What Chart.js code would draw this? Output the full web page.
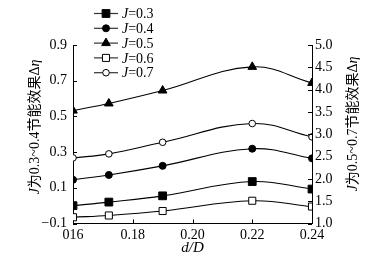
<!DOCTYPE html>
<html>
<head>
<meta charset="utf-8">
<script src="https://cdn.jsdelivr.net/npm/chart.js@4"></script>
<style>
html,body{margin:0;padding:0;background:#fff;}
#wrap{width:369px;height:261px;}
</style>
</head>
<body>
<div id="wrap"><canvas id="grafico"></canvas></div>
<script>
// d/D values of the points
const xVals = [0.16, 0.172, 0.19, 0.22, 0.24];
// left axis series (J = 0.3, 0.4)
const j03 = [0.0, 0.02, 0.055, 0.135, 0.093];
const j04 = [0.145, 0.172, 0.223, 0.319, 0.265];
// right axis series (J = 0.5, 0.6, 0.7)
const j05 = [3.53, 3.69, 3.98, 4.51, 4.15];
const j06 = [1.14, 1.18, 1.28, 1.51, 1.38];
const j07 = [2.47, 2.56, 2.82, 3.24, 2.94];

const nomesJ = ['0.3', '0.4', '0.5', '0.6', '0.7'];
const xTickLabels = ['016', '0.18', '0.20', '0.22', '0.24'];
// [text, italic]
const tituloEsq = [['J',true], ['为0.3~0.4节能效果Δ',false], ['η',true]];
const tituloDir = [['J',true], ['为0.5~0.7节能效果Δ',false], ['η',true]];
const tituloX = 'd/D';

const fonte = '"Liberation Serif", "Noto Sans CJK SC", serif';

function pts(arr){
    return arr.map((v,i)=>({x:xVals[i], y:v}));
}

function serie(nome, arr, eixo, estilo, cheio, raio){
    return {
        label:'J='+nome,
        data:pts(arr),
        yAxisID:eixo,
        borderColor:'#000',
        borderWidth:1.1,
        tension:0.4,
        pointStyle:estilo,
        pointRadius:raio,
        pointHoverRadius:raio,
        pointBorderWidth:1,
        pointBorderColor:'#000',
        pointBackgroundColor:cheio ? '#000' : '#fff'
    };
}

const datasets = [
    serie(nomesJ[0], j03, 'yE', 'rect', true, 5.5),
    serie(nomesJ[1], j04, 'yE', 'circle', true, 3.5),
    serie(nomesJ[2], j05, 'yD', 'triangle', true, 5),
    serie(nomesJ[3], j06, 'yD', 'rect', false, 5),
    serie(nomesJ[4], j07, 'yD', 'circle', false, 3.3)
];

// draw a marker by hand for the legend
function marcador(ctx, ds, x, y){
    const r = ds.pointRadius;
    ctx.beginPath();
    if(ds.pointStyle==='rect'){
        const s = r*Math.SQRT1_2;
        ctx.rect(x-s, y-s, 2*s, 2*s);
    }else if(ds.pointStyle==='circle'){
        ctx.arc(x, y, r, 0, Math.PI*2);
    }else{
        ctx.moveTo(x, y-r);
        ctx.lineTo(x+r*0.866, y+r*0.5);
        ctx.lineTo(x-r*0.866, y+r*0.5);
        ctx.closePath();
    }
    ctx.fillStyle = ds.pointBackgroundColor;
    ctx.fill();
    ctx.lineWidth = 1;
    ctx.strokeStyle = '#000';
    ctx.stroke();
}

// text made of pieces, some italic
function textoMisto(ctx, partes, x, y, tam){
    let cx = x;
    partes.forEach(p=>{
        ctx.font = (p[1] ? 'italic ' : '') + tam + 'px ' + fonte;
        ctx.fillText(p[0], cx, y);
        cx += ctx.measureText(p[0]).width;
    });
    return cx - x;
}

function larguraMista(ctx, partes, tam){
    let w = 0;
    partes.forEach(p=>{
        ctx.font = (p[1] ? 'italic ' : '') + tam + 'px ' + fonte;
        w += ctx.measureText(p[0]).width;
    });
    return w;
}

const extras = {
    id:'extras',
    afterDraw(chart){
        const ctx = chart.ctx;
        const a = chart.chartArea;
        const sx = chart.scales.x, se = chart.scales.yE, sd = chart.scales.yD;
        ctx.save();
        ctx.strokeStyle = '#000';
        ctx.lineWidth = 1;
        // inward tick marks
        ctx.beginPath();
        se.ticks.forEach(t=>{
            const y = Math.round(se.getPixelForValue(t.value))+0.5;
            ctx.moveTo(a.left, y); ctx.lineTo(a.left+4, y);
        });
        sd.ticks.forEach(t=>{
            const y = Math.round(sd.getPixelForValue(t.value))+0.5;
            ctx.moveTo(a.right, y); ctx.lineTo(a.right-4, y);
        });
        sx.ticks.forEach((t,i)=>{
            if(i===0 || i===sx.ticks.length-1) return;
            const x = Math.round(sx.getPixelForValue(t.value))+0.5;
            ctx.moveTo(x, a.bottom); ctx.lineTo(x, a.bottom-4);
        });
        ctx.stroke();

        ctx.fillStyle = '#000';
        ctx.textBaseline = 'middle';
        ctx.textAlign = 'left';

        // axis titles, rotated
        const tam = 14;
        let w = larguraMista(ctx, tituloEsq, tam);
        ctx.save();
        ctx.translate(35, 127);
        ctx.rotate(-Math.PI/2);
        textoMisto(ctx, tituloEsq, -w/2, 0, tam);
        ctx.restore();

        w = larguraMista(ctx, tituloDir, tam);
        ctx.save();
        ctx.translate(353, 124);
        ctx.rotate(-Math.PI/2);
        textoMisto(ctx, tituloDir, -w/2, 0, tam);
        ctx.restore();

        // x title
        ctx.font = 'italic 15px ' + fonte;
        ctx.textAlign = 'center';
        ctx.fillText(tituloX, (a.left+a.right)/2, 248);

        // legend
        ctx.textAlign = 'left';
        chart.data.datasets.forEach((ds,i)=>{
            const y = 13.5 + i*14.8;
            ctx.beginPath();
            ctx.strokeStyle = '#333';
            ctx.lineWidth = 1.2;
            ctx.moveTo(94, y); ctx.lineTo(118, y);
            ctx.stroke();
            marcador(ctx, ds, 106, y);
            ctx.fillStyle = '#000';
            textoMisto(ctx, [['J',true], ['=' + nomesJ[i],false]], 122, y+1, 14);
        });
        ctx.restore();
    }
};

const tickFont = {family:fonte, size:14};

new Chart(document.getElementById('grafico'), {
    type:'line',
    data:{datasets:datasets},
    options:{
        responsive:true,
        maintainAspectRatio:false,
        animation:false,
        layout:{padding:{top:45, left:0, right:0, bottom:0}},
        plugins:{legend:{display:false}, tooltip:{enabled:false}},
        scales:{
            x:{
                type:'linear',
                min:0.16, max:0.24,
                grid:{display:false, drawTicks:false},
                border:{display:true, color:'#000', width:1},
                ticks:{stepSize:0.02, color:'#000', font:tickFont, padding:3, maxRotation:0,
                    callback:(v,i)=>xTickLabels[i]},
                afterFit:s=>{s.height = 37.5;}
            },
            yE:{
                position:'left',
                min:-0.1, max:0.9,
                grid:{display:false, drawTicks:false},
                border:{display:true, color:'#000', width:1},
                ticks:{stepSize:0.1, color:'#000', font:tickFont, padding:6,
                    callback:v=>{
                        const r = Math.round(v*10)/10;
                        if(r===0) return '0';
                        return r<0 ? '\u2212'+Math.abs(r).toFixed(1) : r.toFixed(1);
                    }},
                afterFit:s=>{s.width = 73;}
            },
            yD:{
                position:'right',
                min:1.0, max:5.0,
                grid:{display:false, drawTicks:false},
                border:{display:true, color:'#000', width:1},
                ticks:{stepSize:0.5, color:'#000', font:tickFont, padding:3,
                    callback:v=>v.toFixed(1)},
                afterFit:s=>{s.width = 57;}
            }
        }
    },
    plugins:[extras]
});
</script>
</body>
</html>
